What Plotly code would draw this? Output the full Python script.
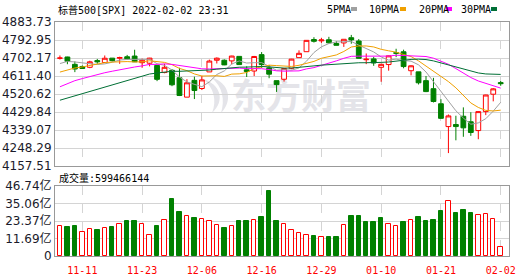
import base64
import pandas as pd
import plotly.graph_objects as go

# ---------------- data ----------------
dates = ["11-08", "11-09", "11-10", "11-11", "11-12", "11-15", "11-16", "11-17", "11-18", "11-19",
         "11-22", "11-23", "11-24", "11-26", "11-29", "11-30", "12-01", "12-02", "12-03", "12-06",
         "12-07", "12-08", "12-09", "12-10", "12-13", "12-14", "12-15", "12-16", "12-17", "12-20",
         "12-21", "12-22", "12-23", "12-27", "12-28", "12-29", "12-30", "12-31", "01-03", "01-04",
         "01-05", "01-06", "01-07", "01-10", "01-11", "01-12", "01-13", "01-14", "01-18", "01-19",
         "01-20", "01-21", "01-24", "01-25", "01-26", "01-27", "01-28", "01-31", "02-01", "02-02"]

opens = [4701.48, 4707.25, 4670.26, 4659.39, 4655.24, 4689.30, 4679.42, 4701.50, 4700.72, 4708.44,
         4712.00, 4678.48, 4675.78, 4664.63, 4628.75, 4640.25, 4602.82, 4504.73, 4589.49, 4548.37,
         4631.97, 4690.86, 4691.00, 4687.64, 4710.30, 4642.99, 4636.46, 4719.13, 4652.50, 4587.90,
         4594.96, 4650.36, 4703.96, 4733.99, 4795.49, 4788.64, 4794.23, 4775.21, 4778.14, 4804.51,
         4787.99, 4693.39, 4697.66, 4655.34, 4669.14, 4728.59, 4733.56, 4637.99, 4632.24, 4588.03,
         4547.35, 4471.38, 4356.32, 4366.64, 4408.43, 4380.58, 4336.19, 4431.79, 4519.57, 4578.00]
highs = [4714.92, 4708.53, 4684.85, 4664.55, 4688.47, 4697.42, 4714.95, 4701.50, 4708.80, 4717.75,
         4743.83, 4699.39, 4702.87, 4664.63, 4672.95, 4646.02, 4652.94, 4595.46, 4608.03, 4612.60,
         4694.04, 4705.06, 4695.26, 4713.57, 4710.30, 4660.47, 4712.60, 4731.99, 4666.70, 4587.90,
         4651.14, 4697.67, 4740.74, 4791.49, 4807.02, 4804.06, 4808.93, 4786.83, 4796.64, 4818.62,
         4797.70, 4725.01, 4707.95, 4673.02, 4714.13, 4748.83, 4744.13, 4665.13, 4632.24, 4611.55,
         4602.11, 4494.52, 4417.35, 4411.01, 4453.23, 4428.74, 4432.72, 4516.89, 4550.49, 4586.00]
lows = [4694.39, 4670.87, 4630.86, 4648.31, 4650.77, 4672.86, 4679.42, 4684.41, 4672.78, 4694.22,
        4682.17, 4652.66, 4659.89, 4585.43, 4625.26, 4560.00, 4510.27, 4504.73, 4495.12, 4540.51,
        4631.97, 4674.52, 4665.98, 4670.24, 4667.60, 4606.52, 4611.22, 4651.89, 4600.22, 4531.10,
        4583.16, 4645.53, 4703.96, 4733.99, 4780.04, 4778.08, 4775.33, 4765.75, 4758.17, 4774.27,
        4699.44, 4671.26, 4662.74, 4582.24, 4638.27, 4706.71, 4650.29, 4614.75, 4568.70, 4530.20,
        4477.95, 4395.34, 4222.62, 4287.11, 4304.80, 4309.50, 4292.46, 4414.02, 4483.53, 4562.00]
closes = [4701.70, 4685.25, 4646.71, 4649.27, 4682.85, 4682.80, 4700.90, 4688.67, 4704.54, 4697.96,
          4682.94, 4690.70, 4701.46, 4594.62, 4655.27, 4567.00, 4513.04, 4577.10, 4538.43, 4591.67,
          4686.75, 4701.21, 4667.45, 4712.02, 4668.97, 4634.09, 4709.85, 4668.67, 4620.64, 4568.02,
          4649.23, 4696.56, 4725.79, 4791.19, 4786.35, 4793.06, 4778.73, 4766.18, 4796.56, 4793.54,
          4700.58, 4696.05, 4677.03, 4670.29, 4713.07, 4726.35, 4659.03, 4662.85, 4577.11, 4532.76,
          4482.73, 4397.94, 4410.13, 4356.45, 4349.93, 4326.51, 4431.85, 4515.55, 4546.54, 4573.00]
# closes of the 29 sessions before the first candle (feed the moving averages)
prior_closes = [4352.63, 4359.46, 4307.54, 4357.04, 4300.46, 4345.72, 4363.55, 4399.76, 4391.34,
                4361.19, 4350.65, 4363.80, 4438.26, 4471.37, 4486.46, 4519.63, 4536.19, 4549.78,
                4544.90, 4566.48, 4574.79, 4551.68, 4596.42, 4605.38, 4613.67, 4630.65, 4660.57,
                4680.06, 4697.53]
# volume, unit: 亿 (1e8)
volumes = [19.8, 19.4, 20.0, 15.8, 17.8, 17.4, 18.5, 19.4, 21.1, 23.4,
           23.4, 21.4, 13.8, 20.0, 23.8, 38.1, 29.4, 26.5, 25.4, 24.5,
           23.1, 20.5, 18.7, 19.8, 23.4, 23.4, 23.8, 26.0, 43.4, 23.4,
           21.1, 17.4, 15.4, 14.0, 13.4, 12.7, 12.7, 12.7, 20.7, 26.7,
           26.7, 22.7, 22.7, 25.4, 21.4, 20.0, 22.7, 23.8, 26.0, 23.4,
           24.0, 30.0, 36.7, 28.7, 30.7, 28.7, 27.4, 28.0, 24.7, 5.99466144]

tick_labels = ["11-11", "11-23", "12-06", "12-16", "12-29", "01-10", "01-21", "02-02"]
price_ticks = [4157.51, 4248.29, 4339.07, 4429.84, 4520.62, 4611.40, 4702.17, 4792.95, 4883.73]
vol_ticks = [0, 11.69, 23.37, 35.06, 46.74]

ma_periods = [5, 10, 20, 30]
ma_names = ["5PMA", "10PMA", "20PMA", "30PMA"]
ma_colors = ["#a0a0a0", "#f0a000", "#ff00ff", "#006f35"]

RED = "#ff0000"
GREEN = "#008000"

# ---------------- derived ----------------
x = list(range(len(dates)))
tick_idx = [dates.index(t) for t in tick_labels]
series = pd.Series(prior_closes + closes)
mas = {n: series.rolling(n).mean().iloc[len(prior_closes):].tolist() for n in ma_periods}
prev = [prior_closes[-1]] + closes[:-1]
vol_up = [c >= p for c, p in zip(closes, prev)]

fig = go.Figure()

fig.add_trace(go.Candlestick(
    x=x, open=opens, high=highs, low=lows, close=closes,
    increasing=dict(line=dict(color=RED, width=1), fillcolor="#ffffff"),
    decreasing=dict(line=dict(color=GREEN, width=1), fillcolor=GREEN),
    whiskerwidth=0, xaxis="x", yaxis="y", showlegend=False, hoverinfo="skip"))

for n, col in zip(ma_periods, ma_colors):
    fig.add_trace(go.Scatter(x=x, y=mas[n], mode="lines", line=dict(color=col, width=1),
                             xaxis="x", yaxis="y", showlegend=False, hoverinfo="skip"))

fig.add_trace(go.Bar(
    x=x, y=volumes, width=0.6,
    marker=dict(color=["#ffffff" if u else GREEN for u in vol_up],
                line=dict(color=[RED if u else GREEN for u in vol_up], width=1)),
    xaxis="x2", yaxis="y2", showlegend=False, hoverinfo="skip"))

# ---------------- layout ----------------
L, R, T, B, W, H = 55, 21, 22, 20, 530, 276
PW, PH = W - L - R, H - T - B


def px(v):
    return (v - L) / PW


def py(v):
    return (H - B - v) / PH


GRID = "#d4d4d4"
FRAME = "#999999"
xr = [-0.66, len(dates) - 1 + 1.11]
mono = "DejaVu Sans Mono, Noto Sans CJK SC"
sans = "DejaVu Sans, Noto Sans CJK SC"

common_x = dict(range=xr, tickmode="array", tickvals=tick_idx, showgrid=True, gridcolor=GRID,
                griddash="dash", gridwidth=1, zeroline=False, showline=True, linecolor=FRAME,
                mirror=True, ticks="", fixedrange=True, automargin=False)

fig.update_layout(
    width=W, height=H, margin=dict(l=L, r=R, t=T, b=B, autoexpand=False),
    paper_bgcolor="#ffffff", plot_bgcolor="#ffffff",
    boxgap=0.2, boxgroupgap=0.2, bargap=0,
    xaxis=dict(domain=[0, 1], anchor="y", showticklabels=False, rangeslider=dict(visible=False),
               **common_x),
    yaxis=dict(domain=[py(166), 1], anchor="x", range=[price_ticks[0] - 0.01, price_ticks[-1] + 0.01],
               tickmode="array", tickvals=price_ticks, ticktext=[f"{v:.2f}" for v in price_ticks],
               showgrid=True, gridcolor=GRID, zeroline=False, showline=True, linecolor=FRAME,
               mirror=True, ticks="", automargin=False,
               tickfont=dict(family=sans, size=12, color="#1a1a2a")),
    xaxis2=dict(domain=[0, 1], anchor="y2", showticklabels=True, ticktext=tick_labels,
                ticklabelstandoff=5,
                tickfont=dict(family=mono, size=10, color=RED), **common_x),
    yaxis2=dict(domain=[0, py(186)], anchor="x2", range=[0, vol_ticks[-1] + 0.01],
                tickmode="array", tickvals=vol_ticks,
                ticktext=["0"] + [f"{v:.2f}亿" for v in vol_ticks[1:]],
                showgrid=True, gridcolor=GRID, zeroline=False, showline=True, linecolor=FRAME,
                mirror=True, ticks="", automargin=False,
                tickfont=dict(family=sans, size=12, color="#1a1a2a")),
)

ann = [dict(text="标普500[SPX] 2022-02-02 23:31", x=px(56), y=py(10), xref="paper", yref="paper",
            xanchor="left", yanchor="middle", showarrow=False,
            font=dict(family=mono, size=10, color="#000000")),
       dict(text=f"成交量:{round(volumes[-1] * 1e8)}", x=px(57), y=py(178), xref="paper", yref="paper",
            xanchor="left", yanchor="middle", showarrow=False,
            font=dict(family=mono, size=10, color="#000000"))]
shapes = []
leg_x = [325, 367, 417, 459]
sq_x = [351, 400, 446, 491]
for name, col, lx, sx in zip(ma_names, ma_colors, leg_x, sq_x):
    ann.append(dict(text=name, x=px(lx), y=py(10), xref="paper", yref="paper", xanchor="left",
                    yanchor="middle", showarrow=False, font=dict(family=mono, size=10, color="#000000")))
    shapes.append(dict(type="rect", xref="paper", yref="paper", x0=px(sx), x1=px(sx + 6),
                       y0=py(11), y1=py(7), fillcolor=col, line=dict(width=0)))

wm_color = "#e4e4e9"
wm_svg = ("<svg xmlns='http://www.w3.org/2000/svg' width='175' height='38' viewBox='0 0 175 38'>"
          f"<path d='M3 3 C 20 8, 26 24, 12 37 C 17 24, 14 12, 3 3 Z' fill='{wm_color}'/>"
          f"<path d='M11 1 C 30 7, 33 25, 21 37 C 25 24, 23 11, 11 1 Z' fill='{wm_color}'/>"
          f"<text x='31' y='33' font-family='Noto Sans CJK SC' font-weight='700' font-size='35' "
          f"fill='{wm_color}'>东方财富</text></svg>")
src = "data:image/svg+xml;base64," + base64.b64encode(wm_svg.encode("utf-8")).decode()

fig.update_layout(
    annotations=ann, shapes=shapes,
    images=[dict(source=src, xref="paper", yref="paper", x=px(200), y=py(76), sizex=175 / PW,
                 sizey=38 / PH, xanchor="left", yanchor="top", sizing="stretch", layer="below")])

fig.write_html("out.html")
